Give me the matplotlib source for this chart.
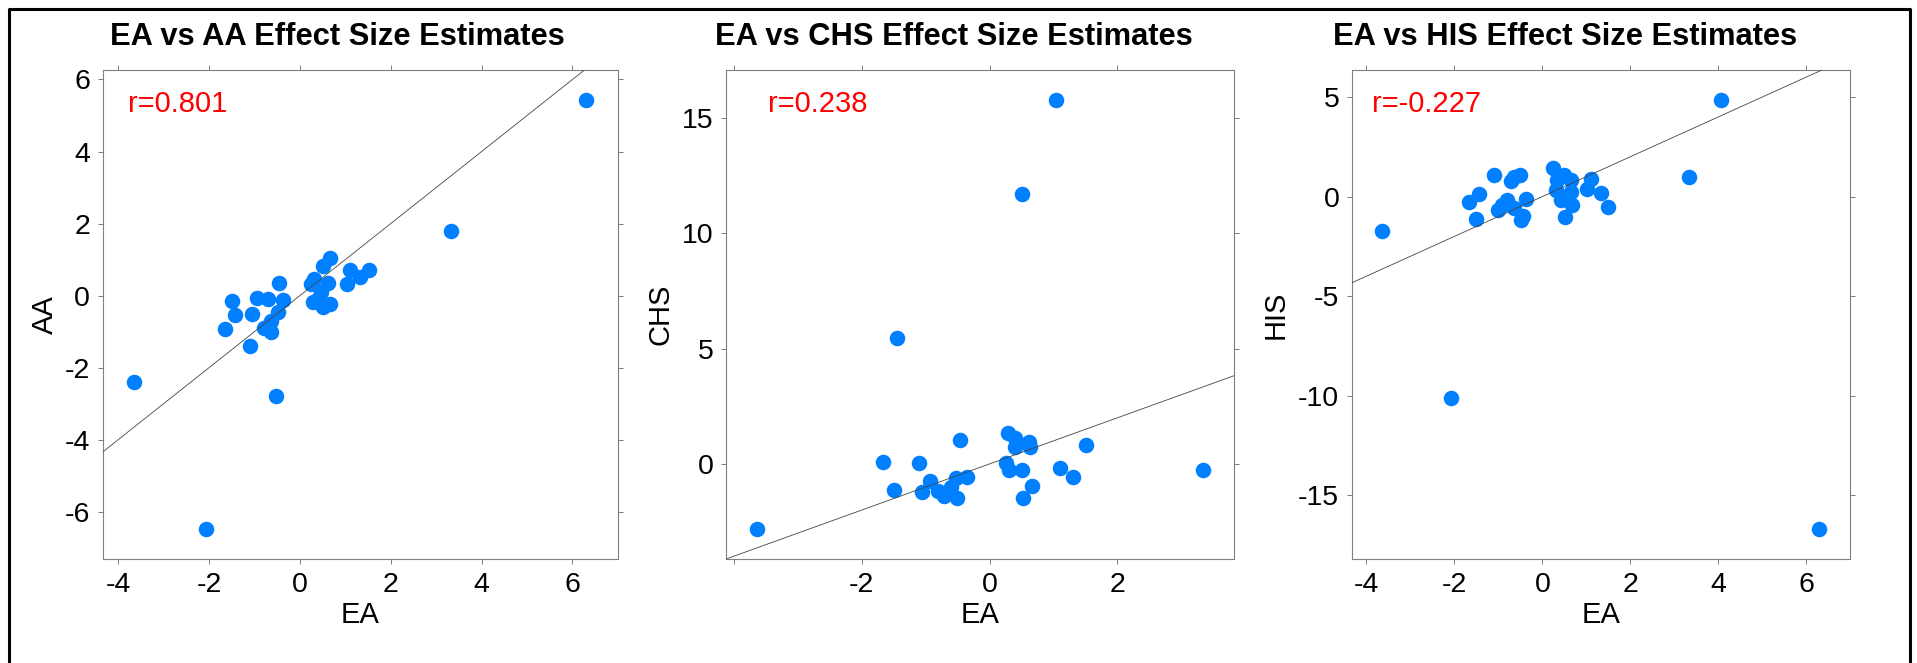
import numpy as np
import matplotlib
matplotlib.use('Agg')
import matplotlib.pyplot as plt
from matplotlib.lines import Line2D

plt.rcParams['font.family'] = ['Liberation Sans', 'DejaVu Sans']
plt.rcParams['axes.unicode_minus'] = False

# EA vs AA
ea_aa = [6.30, 3.32, -3.65, -2.07, -0.52,
         -1.10, -1.66, -1.44, -1.50, -1.05, -0.95, -0.71, -0.47, -0.38, -0.49,
         -0.64, -0.78, -0.64, 0.67, 0.50, 0.31, 0.24, 0.61, 0.46, 0.28, 0.50,
         0.67, 0.40, 1.11, 1.33, 1.51, 1.03]
aa = [5.43, 1.78, -2.41, -6.48, -2.80,
      -1.40, -0.93, -0.54, -0.16, -0.51, -0.08, -0.09, 0.34, -0.11, -0.45,
      -0.70, -0.89, -1.02, 1.05, 0.83, 0.46, 0.32, 0.34, 0.09, -0.19, -0.33,
      -0.23, -0.10, 0.72, 0.53, 0.71, 0.32]

# EA vs CHS
ea_chs = [-3.64, -1.45, 0.51, 1.04, 3.33, -1.67, -1.50,
          -0.47, -1.11, -1.06, -0.94, -0.80, -0.72, -0.61, -0.52, -0.36, -0.51,
          0.28, 0.40, 0.61, 0.40, 0.63, 0.25, 0.31, 0.51, 0.67, 0.52,
          1.10, 1.31, 1.51]
chs = [-2.82, 5.46, 11.68, 15.77, -0.25, 0.09, -1.14,
       1.04, 0.04, -1.20, -0.76, -1.16, -1.38, -1.02, -0.63, -0.58, -1.49,
       1.33, 1.13, 0.94, 0.72, 0.72, 0.03, -0.26, -0.26, -0.94, -1.48,
       -0.19, -0.55, 0.80]

# EA vs HIS
ea_his = [-3.64, -2.07, 6.30, 4.06, 3.33,
          -1.67, -1.44, -1.52, -1.10, -0.72, -0.51, -0.65, -1.02, -0.91, -0.80,
          -0.65, -0.49, -0.45, -0.38, 0.25, 0.49, 0.64, 0.34, 0.30, 0.49,
          0.64, 0.42, 0.68, 0.51, 1.10, 1.02, 1.33, 1.50]
his = [-1.75, -10.14, -16.70, 4.85, 0.96,
       -0.25, 0.13, -1.13, 1.08, 0.78, 1.08, 1.00, -0.67, -0.42, -0.17,
       -0.58, -1.17, -1.00, -0.13, 1.42, 1.08, 0.83, 0.83, 0.33, 0.00,
       0.25, -0.17, -0.42, -1.03, 0.87, 0.37, 0.20, -0.50]

titles = ['EA vs AA Effect Size Estimates', 'EA vs CHS Effect Size Estimates',
          'EA vs HIS Effect Size Estimates']
ylabels = ['AA', 'CHS', 'HIS']
r_labels = ['r=0.801', 'r=0.238', 'r=-0.227']
xticks = [[-4, -2, 0, 2, 4, 6], [-4, -2, 0, 2], [-4, -2, 0, 2, 4, 6]]
xticklabels = [['-4', '-2', '0', '2', '4', '6'], ['', '-2', '0', '2'],
               ['-4', '-2', '0', '2', '4', '6']]
yticks = [[-6, -4, -2, 0, 2, 4, 6], [0, 5, 10, 15], [-15, -10, -5, 0, 5]]

W, H = 1917, 663
fig = plt.figure(figsize=(W / 100, H / 100), dpi=100)


def fx(px):
    return px / W


def fy(py):
    return 1 - py / H


# panel boxes in pixels: left, right ; top/bottom shared
boxes = [(102.5, 617.7), (725.7, 1233.7), (1351.7, 1850.0)]
top, bottom = 70.0, 559.0
title_pos = [(110, 'left'), (715, 'left'), (1797, 'right')]
ylab_x = [45, 660, 1276]
r_x = [127.7, 768.3, 1372]

data = [(ea_aa, aa), (ea_chs, chs), (ea_his, his)]
frame_col = '#808080'

for i, (x, y) in enumerate(data):
    l, r = boxes[i]
    ax = fig.add_axes([fx(l), fy(bottom), (r - l) / W, (bottom - top) / H])
    x = np.array(x)
    y = np.array(y)
    ax.scatter(x, y, s=125, color='#0080ff', linewidths=0, zorder=2)
    ax.axline((0, 0), slope=1, color='#444444', lw=0.6, zorder=3)

    # lattice-style 7% range extension
    xs = x.max() - x.min()
    ys = y.max() - y.min()
    ax.set_xlim(x.min() - 0.07 * xs, x.max() + 0.07 * xs)
    ax.set_ylim(y.min() - 0.07 * ys, y.max() + 0.07 * ys)

    ax.set_xticks(xticks[i])
    ax.set_xticklabels(xticklabels[i])
    ax.set_yticks(yticks[i])
    ax.set_yticklabels([str(t) for t in yticks[i]])
    ax.tick_params(axis='both', direction='out', length=3.6, width=0.72,
                   color=frame_col, top=True, right=True, labeltop=False,
                   labelright=False, labelsize=20.5)
    ax.tick_params(axis='x', pad=6.0)
    ax.tick_params(axis='y', pad=5.3)
    for sp in ax.spines.values():
        sp.set_color(frame_col)
        sp.set_linewidth(0.8)

    tx, ha = title_pos[i]
    fig.text(fx(tx), fy(45), titles[i], ha=ha, va='baseline',
             fontsize=22.2, fontweight='bold')
    fig.text(fx((l + r) / 2), fy(623), 'EA', ha='center', va='baseline',
             fontsize=21)
    fig.text(fx(ylab_x[i]), fy((top + bottom) / 2), ylabels[i], rotation=90,
             ha='center', va='center', fontsize=21)
    fig.text(fx(r_x[i]), fy(111.7), r_labels[i], color='red', ha='left',
             va='baseline', fontsize=21)

# outer black frame (open at the bottom edge of the image)
frame_x = [fx(8.5), fx(8.5), fx(1910), fx(1910)]
frame_y = [fy(H + 5), fy(8.5), fy(8.5), fy(H + 5)]
fig.add_artist(Line2D(frame_x, frame_y, color='black', lw=2.2,
                      transform=fig.transFigure))

fig.savefig('out.png', dpi=100)
